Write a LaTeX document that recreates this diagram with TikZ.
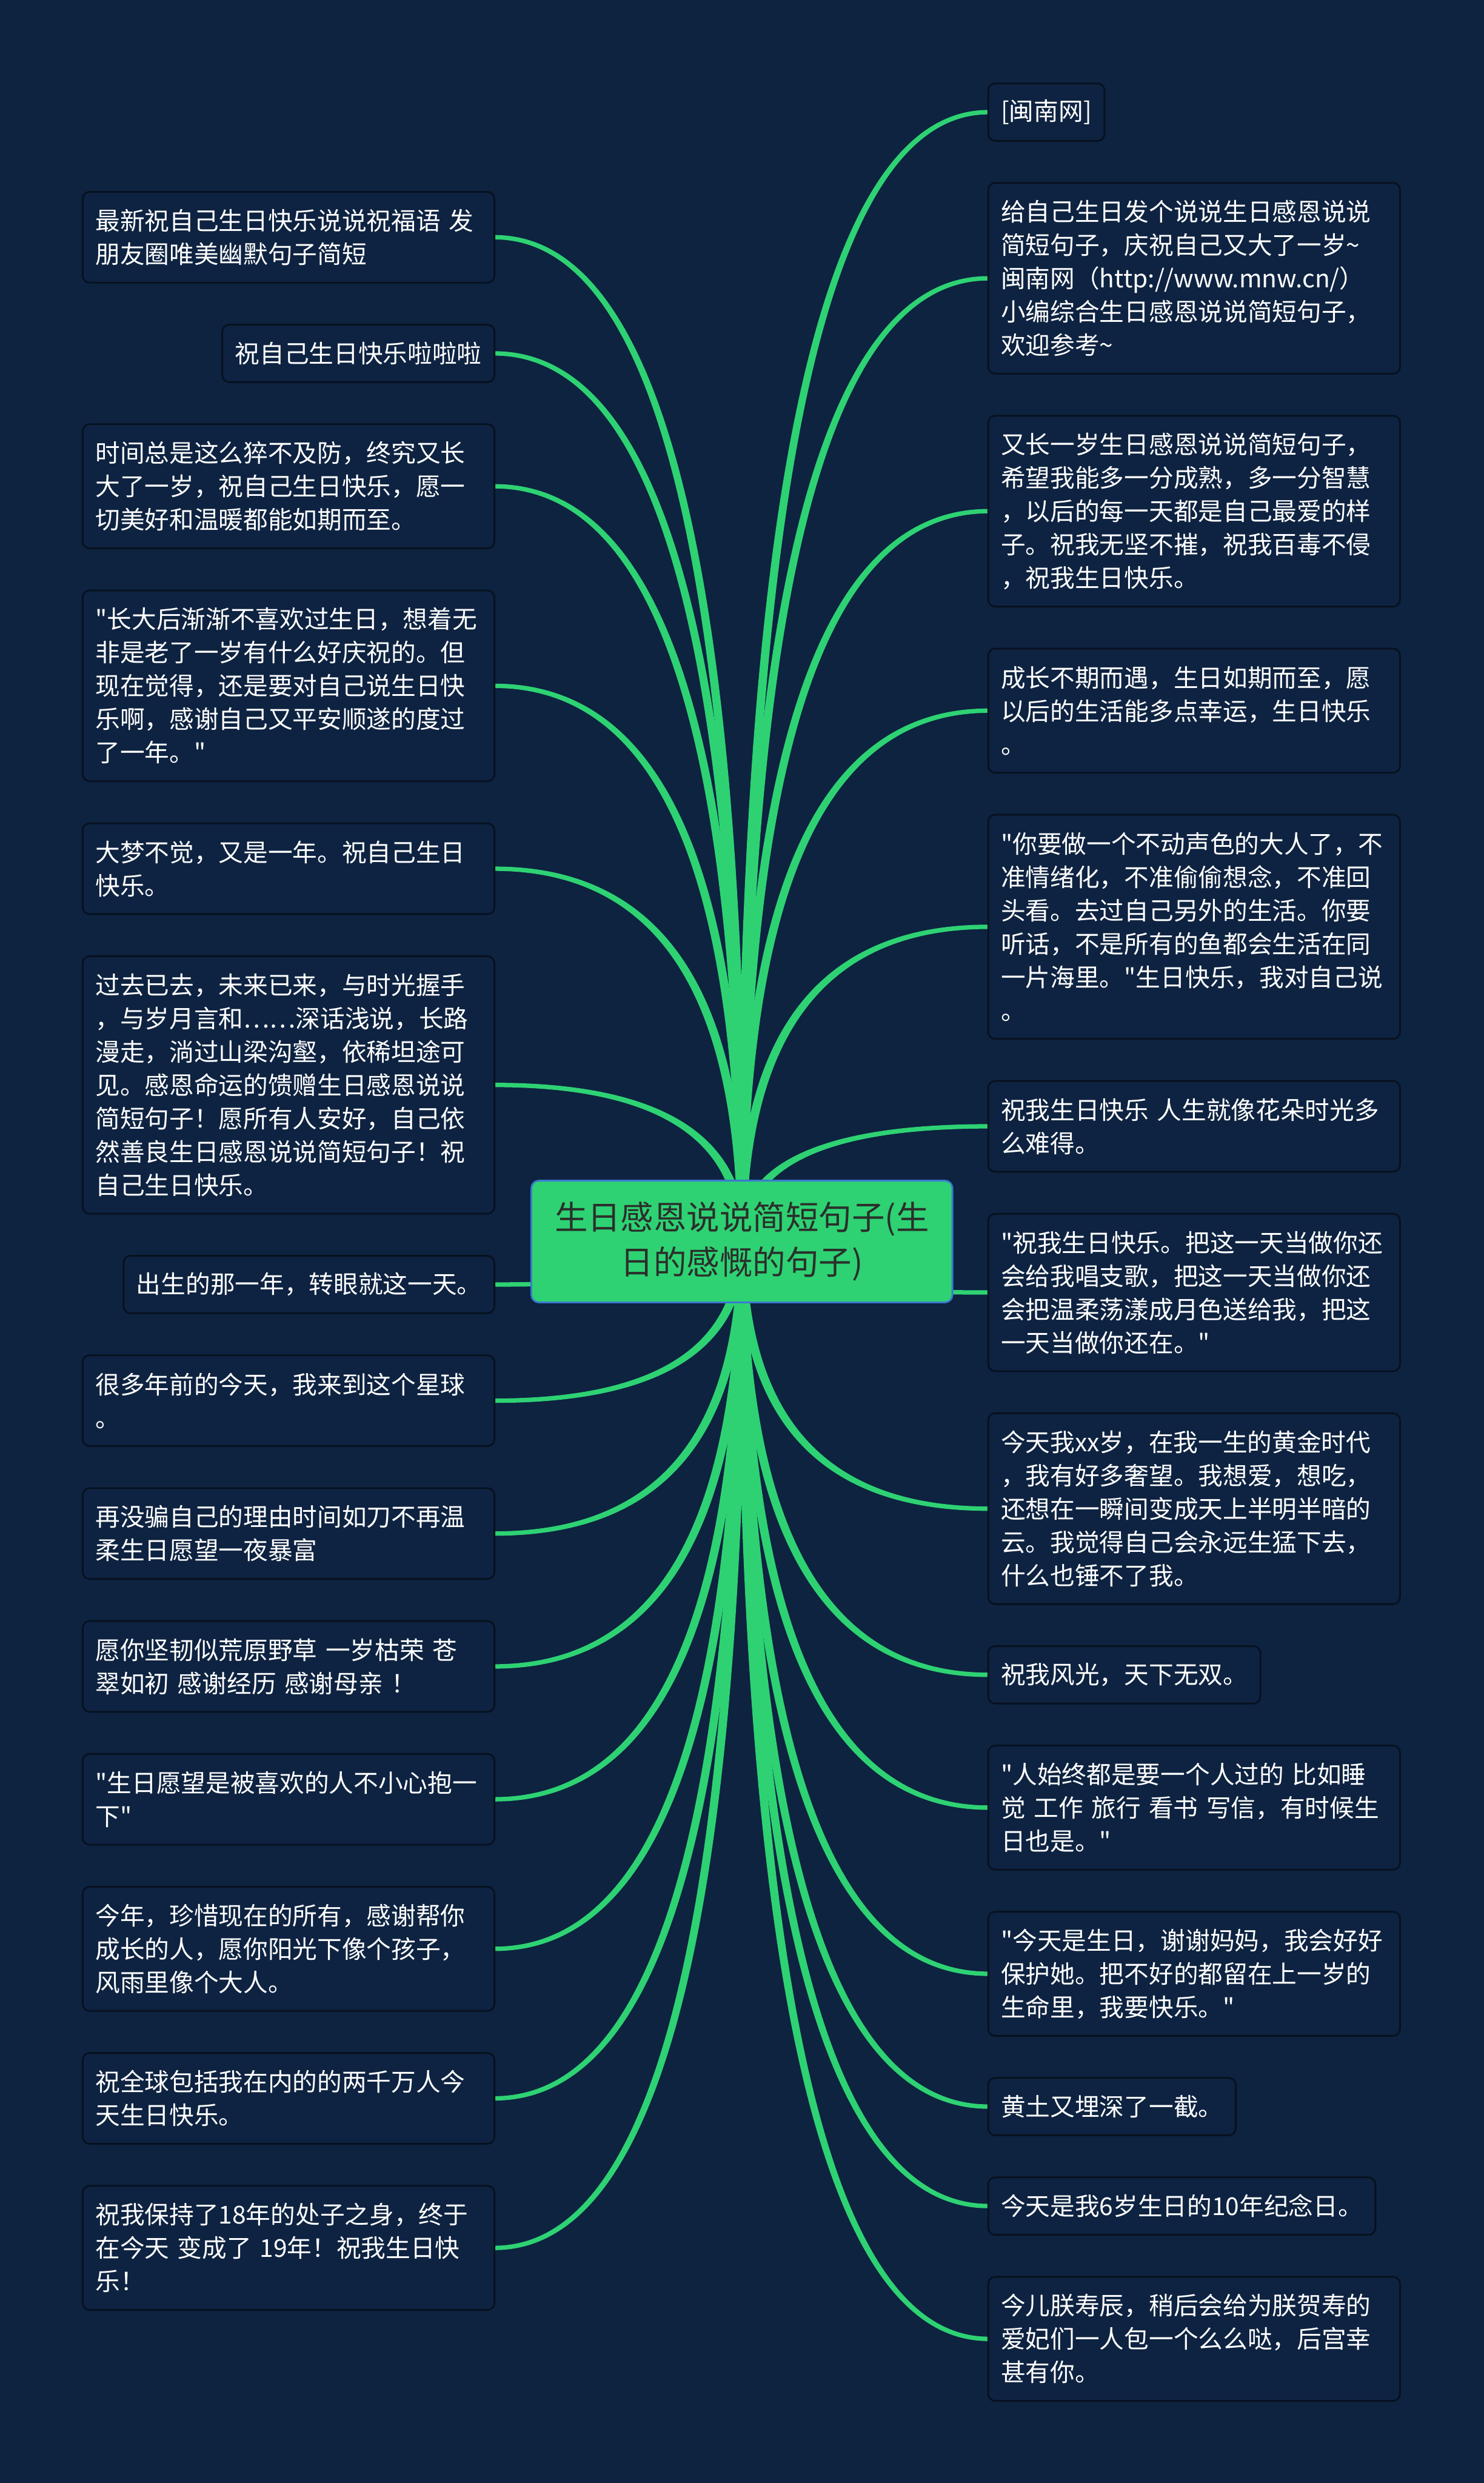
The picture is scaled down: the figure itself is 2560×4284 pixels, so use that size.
\documentclass[tikz,border=0pt]{standalone}
\usepackage{fontspec}
\usepackage{tikz}
\usetikzlibrary{positioning,calc}

\newfontfamily\cjk{Noto Sans CJK SC}
\newcommand\leaffont{\cjk\fontsize{12.1pt}{16.36pt}\selectfont}
\newcommand\rootfont{\cjk\fontsize{16.2pt}{21.9pt}\selectfont}

\definecolor{pagebg}{HTML}{0D2340}
\definecolor{leaffill}{HTML}{0E2341}
\definecolor{leafedge}{HTML}{07111F}
\definecolor{wire}{HTML}{2ED273}
\definecolor{rootedge}{HTML}{3B78D0}
\definecolor{roottext}{HTML}{2B2F2B}

\pgfdeclarelayer{back}
\pgfdeclarelayer{wires}
\pgfsetlayers{back,wires,main}

\begin{document}
\begin{tikzpicture}[
x=0.01cm,
y=-0.01cm,
leaf/.style={
draw=leafedge,
line width=0.85pt,
fill=leaffill,
rounded corners=0.12cm,
text=white,
font=\leaffont,
align=left,
inner xsep=0.22cm,
inner ysep=0pt,
outer sep=0pt
},
wide/.style={
text width=6.66cm
},
nlines/.style={
minimum height={#1*0.575cm+0.415cm}
},
rootbox/.style={
draw=rootedge,
line width=0.85pt,
fill=wire,
rounded corners=0.13cm,
text=roottext,
font=\rootfont,
align=center,
minimum width=7.26cm,
minimum height=2.1cm,
outer sep=0pt
},
branch/.style={
fill=wire,
to path={
let \p1=(\tikztostart), \p2=(\tikztotarget),
\n1={sign((\x2)-(\x1))*sign((\y2)-(\y1))} in
({(\x1)-2.2pt},{\y1})
.. controls ({(\x1)-2.2pt},{(\y1)+2/3*((\y2)+(\n1)*1.08pt-(\y1))})
and ({(\x2)+2/3*((\x1)-2.2pt-(\x2))},{(\y2)+(\n1)*1.08pt})
.. ({\x2},{(\y2)+(\n1)*1.08pt})
-- ({\x2},{(\y2)-(\n1)*1.08pt})
.. controls ({(\x2)+2/3*((\x1)+2.2pt-(\x2))},{(\y2)-(\n1)*1.08pt})
and ({(\x1)+2.2pt},{(\y1)+2/3*((\y2)-(\n1)*1.08pt-(\y1))})
.. ({(\x1)+2.2pt},{\y1}) -- cycle
}
}
]

\useasboundingbox (0,0) rectangle (2560,4284);
\begin{pgfonlayer}{back}
\fill[pagebg] (0,0) rectangle (2560,4284);
\end{pgfonlayer}


% Root

\node (root) [rootbox] at (1280,2142)
{生日感恩说说简短句子(生\\
日的感慨的句子)};


% Left side

\node (l1) [leaf, wide, nlines=2, anchor=north east] at (853,331)
{最新祝自己生日快乐说说祝福语 发\\
朋友圈唯美幽默句子简短};

\node (l2) [leaf, nlines=1, below=0.726cm of l1.south east, anchor=north east]
{祝自己生日快乐啦啦啦};

\node (l3) [leaf, wide, nlines=3, below=0.726cm of l2.south east, anchor=north east]
{时间总是这么猝不及防，终究又长\\
大了一岁，祝自己生日快乐，愿一\\
切美好和温暖都能如期而至。};

\node (l4) [leaf, wide, nlines=5, below=0.726cm of l3.south east, anchor=north east]
{"长大后渐渐不喜欢过生日，想着无\\
非是老了一岁有什么好庆祝的。但\\
现在觉得，还是要对自己说生日快\\
乐啊，感谢自己又平安顺遂的度过\\
了一年。"};

\node (l5) [leaf, wide, nlines=2, below=0.726cm of l4.south east, anchor=north east]
{大梦不觉，又是一年。祝自己生日\\
快乐。};

\node (l6) [leaf, wide, nlines=7, below=0.726cm of l5.south east, anchor=north east]
{过去已去，未来已来，与时光握手\\
，与岁月言和……深话浅说，长路\\
漫走，淌过山梁沟壑，依稀坦途可\\
见。感恩命运的馈赠生日感恩说说\\
简短句子！愿所有人安好，自己依\\
然善良生日感恩说说简短句子！祝\\
自己生日快乐。};

\node (l7) [leaf, nlines=1, below=0.726cm of l6.south east, anchor=north east]
{出生的那一年，转眼就这一天。};

\node (l8) [leaf, wide, nlines=2, below=0.726cm of l7.south east, anchor=north east]
{很多年前的今天，我来到这个星球\\
。};

\node (l9) [leaf, wide, nlines=2, below=0.726cm of l8.south east, anchor=north east]
{再没骗自己的理由时间如刀不再温\\
柔生日愿望一夜暴富};

\node (l10) [leaf, wide, nlines=2, below=0.726cm of l9.south east, anchor=north east]
{愿你坚韧似荒原野草 一岁枯荣 苍\\
翠如初 感谢经历 感谢母亲 ！};

\node (l11) [leaf, wide, nlines=2, below=0.726cm of l10.south east, anchor=north east]
{"生日愿望是被喜欢的人不小心抱一\\
下"};

\node (l12) [leaf, wide, nlines=3, below=0.726cm of l11.south east, anchor=north east]
{今年，珍惜现在的所有，感谢帮你\\
成长的人，愿你阳光下像个孩子，\\
风雨里像个大人。};

\node (l13) [leaf, wide, nlines=2, below=0.726cm of l12.south east, anchor=north east]
{祝全球包括我在内的的两千万人今\\
天生日快乐。};

\node (l14) [leaf, wide, nlines=3, below=0.726cm of l13.south east, anchor=north east]
{祝我保持了18年的处子之身，终于\\
在今天 变成了 19年！祝我生日快\\
乐！};


% Right side

\node (r1) [leaf, nlines=1, anchor=north west] at (1705,144)
{[闽南网]};

\node (r2) [leaf, wide, nlines=5, below=0.725cm of r1.south west, anchor=north west]
{给自己生日发个说说生日感恩说说\\
简短句子，庆祝自己又大了一岁\textasciitilde\\
闽南网（http://www.mnw.cn/）\\
小编综合生日感恩说说简短句子，\\
欢迎参考\textasciitilde};

\node (r3) [leaf, wide, nlines=5, below=0.725cm of r2.south west, anchor=north west]
{又长一岁生日感恩说说简短句子，\\
希望我能多一分成熟，多一分智慧\\
，以后的每一天都是自己最爱的样\\
子。祝我无坚不摧，祝我百毒不侵\\
，祝我生日快乐。};

\node (r4) [leaf, wide, nlines=3, below=0.725cm of r3.south west, anchor=north west]
{成长不期而遇，生日如期而至，愿\\
以后的生活能多点幸运，生日快乐\\
。};

\node (r5) [leaf, wide, nlines=6, below=0.725cm of r4.south west, anchor=north west]
{"你要做一个不动声色的大人了，不\\
准情绪化，不准偷偷想念，不准回\\
头看。去过自己另外的生活。你要\\
听话，不是所有的鱼都会生活在同\\
一片海里。"生日快乐，我对自己说\\
。};

\node (r6) [leaf, wide, nlines=2, below=0.725cm of r5.south west, anchor=north west]
{祝我生日快乐 人生就像花朵时光多\\
么难得。};

\node (r7) [leaf, wide, nlines=4, below=0.725cm of r6.south west, anchor=north west]
{"祝我生日快乐。把这一天当做你还\\
会给我唱支歌，把这一天当做你还\\
会把温柔荡漾成月色送给我，把这\\
一天当做你还在。"};

\node (r8) [leaf, wide, nlines=5, below=0.725cm of r7.south west, anchor=north west]
{今天我xx岁，在我一生的黄金时代\\
，我有好多奢望。我想爱，想吃，\\
还想在一瞬间变成天上半明半暗的\\
云。我觉得自己会永远生猛下去，\\
什么也锤不了我。};

\node (r9) [leaf, nlines=1, below=0.725cm of r8.south west, anchor=north west]
{祝我风光，天下无双。};

\node (r10) [leaf, wide, nlines=3, below=0.725cm of r9.south west, anchor=north west]
{"人始终都是要一个人过的 比如睡\\
觉 工作 旅行 看书 写信，有时候生\\
日也是。"};

\node (r11) [leaf, wide, nlines=3, below=0.725cm of r10.south west, anchor=north west]
{"今天是生日，谢谢妈妈，我会好好\\
保护她。把不好的都留在上一岁的\\
生命里，我要快乐。"};

\node (r12) [leaf, nlines=1, below=0.725cm of r11.south west, anchor=north west]
{黄土又埋深了一截。};

\node (r13) [leaf, nlines=1, below=0.725cm of r12.south west, anchor=north west]
{今天是我6岁生日的10年纪念日。};

\node (r14) [leaf, wide, nlines=3, below=0.725cm of r13.south west, anchor=north west]
{今儿朕寿辰，稍后会给为朕贺寿的\\
爱妃们一人包一个么么哒，后宫幸\\
甚有你。};


% Branches

\begin{pgfonlayer}{wires}
\fill[branch] (root) to (l1.east);
\fill[branch] (root) to (l2.east);
\fill[branch] (root) to (l3.east);
\fill[branch] (root) to (l4.east);
\fill[branch] (root) to (l5.east);
\fill[branch] (root) to (l6.east);
\fill[branch] (root) to (l7.east);
\fill[branch] (root) to (l8.east);
\fill[branch] (root) to (l9.east);
\fill[branch] (root) to (l10.east);
\fill[branch] (root) to (l11.east);
\fill[branch] (root) to (l12.east);
\fill[branch] (root) to (l13.east);
\fill[branch] (root) to (l14.east);

\fill[branch] (root) to (r1.west);
\fill[branch] (root) to (r2.west);
\fill[branch] (root) to (r3.west);
\fill[branch] (root) to (r4.west);
\fill[branch] (root) to (r5.west);
\fill[branch] (root) to (r6.west);
\fill[branch] (root) to (r7.west);
\fill[branch] (root) to (r8.west);
\fill[branch] (root) to (r9.west);
\fill[branch] (root) to (r10.west);
\fill[branch] (root) to (r11.west);
\fill[branch] (root) to (r12.west);
\fill[branch] (root) to (r13.west);
\fill[branch] (root) to (r14.west);
\end{pgfonlayer}

\end{tikzpicture}
\end{document}
